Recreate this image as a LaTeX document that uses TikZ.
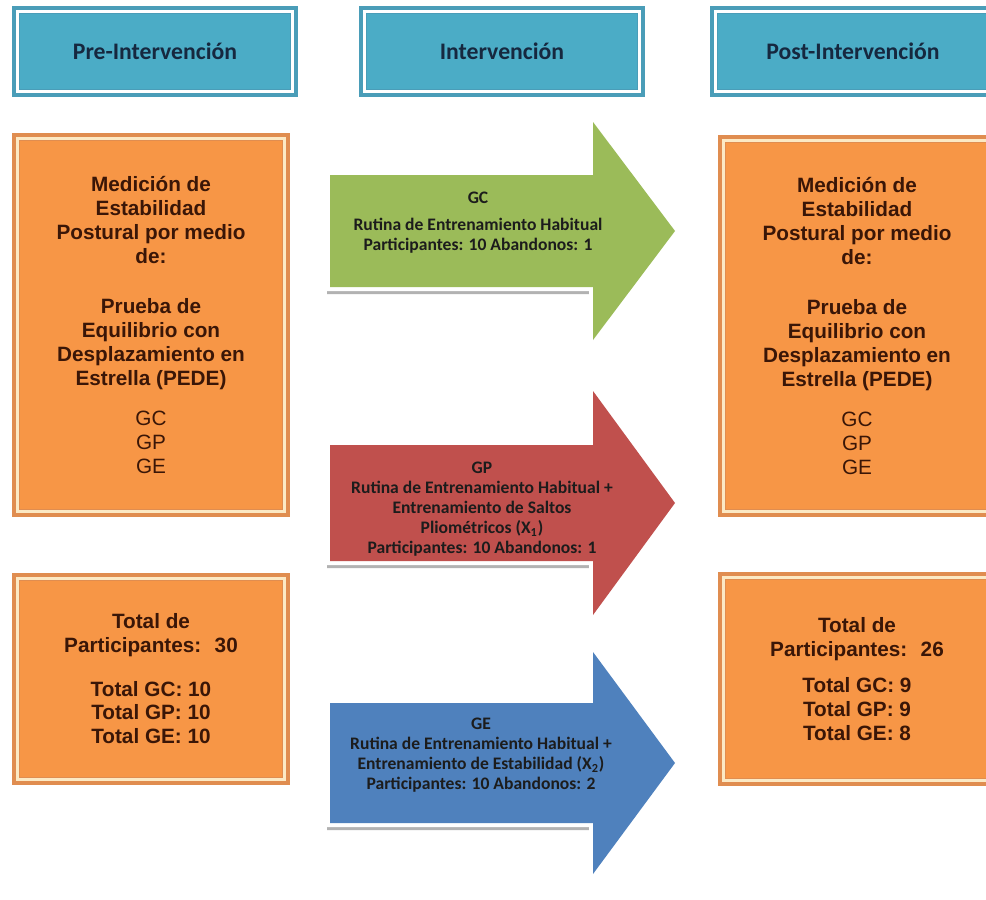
\documentclass[tikz,border=0pt]{standalone}
\usepackage{fontspec}
\setmainfont{Liberation Sans}
\newfontfamily\carlito{Carlito}
\usepackage{tikz}

\definecolor{hdrfill}{HTML}{4BACC6}
\definecolor{hdrrim}{HTML}{4A9DB8}
\definecolor{hdrtext}{HTML}{16283F}
\definecolor{ofill}{HTML}{F79646}
\definecolor{orim}{HTML}{E08D50}
\definecolor{ocream}{HTML}{FCE9C4}
\definecolor{otext}{HTML}{3A1607}
\definecolor{arrG}{HTML}{9BBB59}
\definecolor{arrR}{HTML}{C0504D}
\definecolor{arrB}{HTML}{4F81BD}
\definecolor{atext}{HTML}{1C1C1C}

\tikzset{
    hdr/.style={fill=hdrfill, draw=hdrrim, line width=0.16cm, minimum width=5.56cm, minimum height=1.66cm,
        text=hdrtext, font=\carlito\bfseries\fontsize{13.5}{16}\selectfont},
    hdrline/.style={draw=white, line width=0.06cm},
    obox/.style={fill=ofill, draw=orim, line width=0.16cm, minimum width=5.40cm, align=center,
        text=otext, font=\bfseries\fontsize{11.8}{13.6}\selectfont},
    oline/.style={draw=ocream, line width=0.06cm},
    atxt/.style={align=center, text=atext, font=\carlito\bfseries\fontsize{10}{11.4}\selectfont}
}

\begin{document}
\begin{tikzpicture}[x=0.02cm, y=-0.02cm]
        \useasboundingbox (0,0) rectangle (986,899);
        \clip (0,0) rectangle (986,899);
        \fill[white] (0,0) rectangle (986,899);

        % headers
        \node[hdr] (pre) at (155,51.5) {Pre-Intervención};
        \node[hdr] (intv) at (502,51.5) {Intervención};
        \node[hdr] (post) at (853,51.5) {Post-Intervención};

        % measurement boxes
        \node[obox, minimum height=7.52cm] (medPre) at (151,325)
            {Medición de\\Estabilidad\\Postural por medio\\de:\\[15pt]Prueba de\\Equilibrio con\\Desplazamiento en\\Estrella (PEDE)\\[9.5pt]{\mdseries GC}\\{\mdseries GP}\\{\mdseries GE}};
        \node[obox, minimum height=7.48cm] (medPost) at (857,326)
            {Medición de\\Estabilidad\\Postural por medio\\de:\\[15pt]Prueba de\\Equilibrio con\\Desplazamiento en\\Estrella (PEDE)\\[9.5pt]{\mdseries GC}\\{\mdseries GP}\\{\mdseries GE}};
        \node[obox, minimum height=4.08cm] (totPre) at (151,679)
            {Total de\\Participantes: \ 30\\[11pt]Total GC: 10\\Total GP: 10\\Total GE: 10};
        \node[obox, minimum height=4.12cm] (totPost) at (857,679)
            {Total de\\Participantes: \ 26\\[7pt]Total GC: 9\\Total GP: 9\\Total GE: 8};

        \foreach \n in {pre,intv,post}
            \draw[hdrline] ([shift={(5,5)}]\n.north west) rectangle ([shift={(-5,-5)}]\n.south east);
        \foreach \n in {medPre,medPost,totPre,totPost}
            \draw[oline] ([shift={(5,5)}]\n.north west) rectangle ([shift={(-5,-5)}]\n.south east);

        % arrows
        \foreach \c/\h/\H/\col in {231/56/109/arrG, 503/58/112/arrR, 763/60/111/arrB}{
            \fill[black!30, shift={(-3,7)}] (330,\c-\h) -- (593,\c-\h) -- (593,\c-\H) -- (675,\c)
                -- (593,\c+\H) -- (593,\c+\h) -- (330,\c+\h) -- cycle;
            \filldraw[fill=white, draw=white, line width=0.16cm] (330,\c-\h) -- (593,\c-\h) -- (593,\c-\H) -- (675,\c)
                -- (593,\c+\H) -- (593,\c+\h) -- (330,\c+\h) -- cycle;
            \fill[\col] (330,\c-\h) -- (593,\c-\h) -- (593,\c-\H) -- (675,\c)
                -- (593,\c+\H) -- (593,\c+\h) -- (330,\c+\h) -- cycle;
        }

        \node[atxt] (gcTxt) at (478,223) {GC\\[4pt]Rutina de Entrenamiento Habitual\\Participantes: 10 Abandonos: 1};
        \node[atxt] (gpTxt) at (482,509) {GP\\Rutina de Entrenamiento Habitual +\\Entrenamiento de Saltos\\Pliométricos (X\textsubscript{1})\\Participantes: 10 Abandonos: 1};
        \node[atxt] (geTxt) at (481,755) {GE\\Rutina de Entrenamiento Habitual +\\Entrenamiento de Estabilidad (X\textsubscript{2})\\Participantes: 10 Abandonos: 2};

    \end{tikzpicture}
\end{document}
